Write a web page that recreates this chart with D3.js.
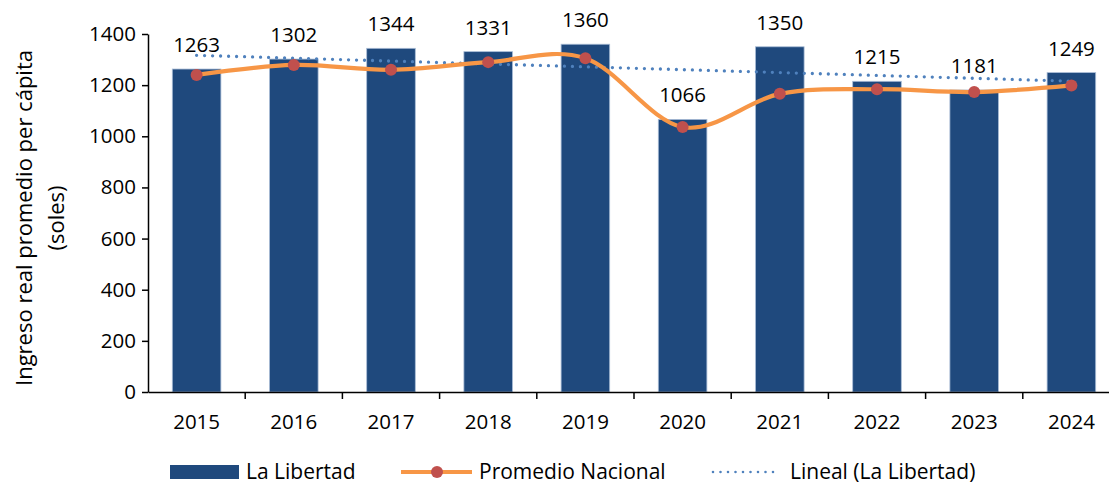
<!DOCTYPE html>
<html>
<head>
<meta charset="utf-8">
<script src="https://cdn.jsdelivr.net/npm/d3@7"></script>
<style>
  body { margin: 0; background: #fff; }
  svg { display: block; font-family: 'Open Sans', sans-serif; }
</style>
</head>
<body>
<svg id="chart"></svg>
<script>
const BAR_BLUE = '#1f497d';
const LINE_ORANGE = '#f79646';
const MARK_RED = '#c0504d';
const TREND_BLUE = '#4f81bd';

// data
const years = ['2015', '2016', '2017', '2018', '2019', '2020', '2021', '2022', '2023', '2024'];
const laLibertad = [1263, 1302, 1344, 1331, 1360, 1066, 1350, 1215, 1181, 1249];
const promedioNacional = [1240, 1279, 1260, 1290, 1305, 1036, 1166, 1184, 1173, 1199];
const yTicks = [0, 200, 400, 600, 800, 1000, 1200, 1400];

const width = 1109;
const height = 485;
const margin = {top: 34, right: -11, bottom: 93, left: 148};

const svg = d3.select('#chart')
    .attr('width', width)
    .attr('height', height);

const x = d3.scaleBand()
    .domain(years)
    .range([margin.left, width - margin.right])
    .paddingInner(0.5)
    .paddingOuter(0.25);

const y = d3.scaleLinear()
    .domain([0, 1400])
    .range([height - margin.bottom, margin.top]);

const cx = d => x(d) + x.bandwidth() / 2;

// bars
svg.append('g')
    .selectAll('rect')
    .data(years)
    .join('rect')
    .attr('x', d => x(d))
    .attr('y', (d, i) => y(laLibertad[i]))
    .attr('width', x.bandwidth())
    .attr('height', (d, i) => y(0) - y(laLibertad[i]))
    .attr('fill', BAR_BLUE)
    .attr('stroke', '#a9bcd6')
    .attr('stroke-width', 0.8);

// bar labels
svg.append('g')
    .selectAll('text')
    .data(years)
    .join('text')
    .attr('x', d => cx(d))
    .attr('y', (d, i) => y(laLibertad[i]) - 17)
    .attr('text-anchor', 'middle')
    .attr('font-size', 20.5)
    .attr('fill', '#000')
    .text((d, i) => laLibertad[i]);

// linear trend (least squares on La Libertad)
const n = laLibertad.length;
const mx = d3.mean(d3.range(n));
const my = d3.mean(laLibertad);
const slope = d3.sum(d3.range(n), i => (i - mx) * (laLibertad[i] - my)) /
              d3.sum(d3.range(n), i => (i - mx) ** 2);
const intercept = my - slope * mx;

svg.append('line')
    .attr('x1', cx(years[0]))
    .attr('x2', cx(years[n - 1]))
    .attr('y1', y(intercept))
    .attr('y2', y(intercept + slope * (n - 1)))
    .attr('stroke', TREND_BLUE)
    .attr('stroke-width', 3.3)
    .attr('stroke-linecap', 'round')
    .attr('stroke-dasharray', '0 8');

// national average, smoothed
const line = d3.line()
    .x((d, i) => cx(years[i]))
    .y(d => y(d))
    .curve(d3.curveCardinal.tension(0));

svg.append('path')
    .datum(promedioNacional)
    .attr('d', line)
    .attr('fill', 'none')
    .attr('stroke', LINE_ORANGE)
    .attr('stroke-width', 4.2);

svg.append('g')
    .selectAll('circle')
    .data(promedioNacional)
    .join('circle')
    .attr('cx', (d, i) => cx(years[i]))
    .attr('cy', d => y(d))
    .attr('r', 6)
    .attr('fill', MARK_RED);

// axes
const yAxis = svg.append('g')
    .attr('transform', `translate(${margin.left},0)`)
    .call(d3.axisLeft(y).tickValues(yTicks).tickFormat(d3.format('d'))
        .tickSize(6).tickPadding(6).tickSizeOuter(0));
yAxis.selectAll('text').attr('font-size', 20.5).attr('fill', '#000').attr('font-family', "'Open Sans', sans-serif");
yAxis.selectAll('line, path').attr('stroke', '#000').attr('stroke-width', 1.5);

const xAxis = svg.append('g')
    .attr('transform', `translate(0,${y(0)})`)
    .call(d3.axisBottom(x).tickSize(0).tickPadding(22).tickSizeOuter(0));
xAxis.selectAll('text').attr('font-size', 20.5).attr('fill', '#000').attr('font-family', "'Open Sans', sans-serif");
xAxis.select('path').attr('stroke', '#000').attr('stroke-width', 1.5);
// category boundary ticks
xAxis.selectAll('line.sep')
    .data(years.slice(1))
    .join('line')
    .attr('class', 'sep')
    .attr('x1', d => x(d) - x.step() * x.paddingInner() / 2)
    .attr('x2', d => x(d) - x.step() * x.paddingInner() / 2)
    .attr('y1', 0)
    .attr('y2', 7)
    .attr('stroke', '#000')
    .attr('stroke-width', 1.5);

// y title
const title = svg.append('text')
    .attr('transform', 'translate(32,218) rotate(-90)')
    .attr('text-anchor', 'middle')
    .attr('font-size', 22)
    .attr('fill', '#000');
title.append('tspan').attr('x', 0).attr('dy', 0).text('Ingreso real promedio per cápita');
title.append('tspan').attr('x', 0).attr('dy', 32).text('(soles)');

// legend
const legY = 472;
const leg = svg.append('g').attr('font-size', 21).attr('fill', '#000');

leg.append('rect')
    .attr('x', 170).attr('y', legY - 7)
    .attr('width', 69).attr('height', 14)
    .attr('fill', BAR_BLUE);
leg.append('text').attr('x', 246).attr('y', legY).attr('dy', '0.35em').text('La Libertad');

leg.append('line')
    .attr('x1', 401).attr('x2', 472)
    .attr('y1', legY).attr('y2', legY)
    .attr('stroke', LINE_ORANGE).attr('stroke-width', 4);
leg.append('circle').attr('cx', 437).attr('cy', legY).attr('r', 6).attr('fill', MARK_RED);
leg.append('text').attr('x', 479).attr('y', legY).attr('dy', '0.35em').text('Promedio Nacional');

leg.append('line')
    .attr('x1', 713).attr('x2', 778)
    .attr('y1', legY).attr('y2', legY)
    .attr('stroke', TREND_BLUE).attr('stroke-width', 2.6)
    .attr('stroke-linecap', 'round')
    .attr('stroke-dasharray', '0 7.5');
leg.append('text').attr('x', 790).attr('y', legY).attr('dy', '0.35em').text('Lineal (La Libertad)');
</script>
</body>
</html>
